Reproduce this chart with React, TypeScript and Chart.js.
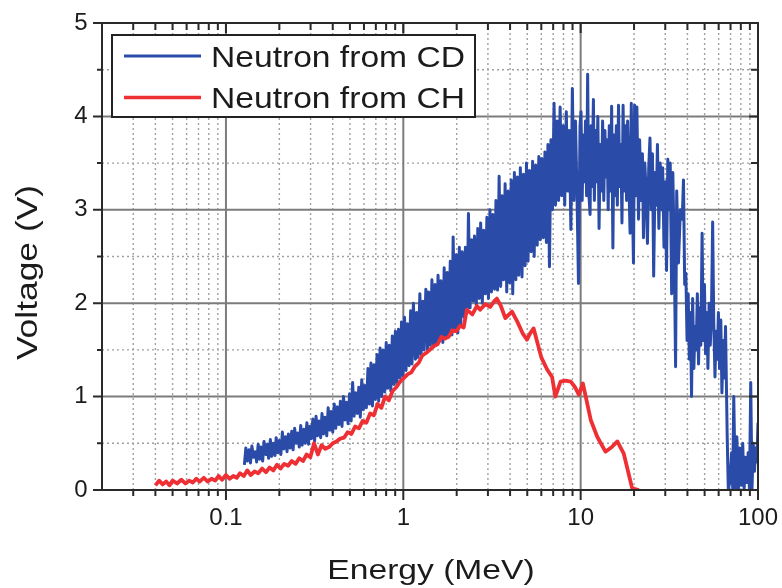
import { useEffect, useRef } from 'react';
import { Chart, registerables } from 'chart.js';

Chart.register(...registerables);

// ---------- data ----------
const seriesNames = ['Neutron from CD', 'Neutron from CH'];
const xTitle = 'Energy (MeV)';
const yTitle = 'Voltage (V)';

const xMin = 0.02;
const xMax = 100;
const yMin = 0;
const yMax = 5;
const xTickValues = [0.1, 1, 10, 100];
const xTickLabels = ['0.1', '1', '10', '100'];
const yTickValues = [0, 1, 2, 3, 4, 5];
const yTickLabels = ['0', '1', '2', '3', '4', '5'];
const yMinorValues = [0.5, 1.5, 2.5, 3.5, 4.5];

// Neutron from CD (blue)
const cdEnergy = [
  0.127, 0.1295, 0.132, 0.135, 0.1375, 0.140, 0.143, 0.146, 0.149, 0.152,
  0.155, 0.158, 0.161, 0.164, 0.168, 0.171, 0.174, 0.178, 0.181, 0.185,
  0.189, 0.192, 0.196, 0.200, 0.204, 0.208, 0.212, 0.217, 0.221, 0.225,
  0.230, 0.235, 0.239, 0.244, 0.249, 0.254, 0.259, 0.264, 0.269, 0.275,
  0.280, 0.286, 0.292, 0.297, 0.303, 0.309, 0.316, 0.322, 0.328, 0.335,
  0.342, 0.348, 0.355, 0.362, 0.370, 0.377, 0.385, 0.392, 0.400, 0.408,
  0.416, 0.425, 0.433, 0.442, 0.451, 0.460, 0.469, 0.478, 0.488, 0.498,
  0.508, 0.518, 0.528, 0.539, 0.550, 0.561, 0.572, 0.583, 0.595, 0.607,
  0.619, 0.632, 0.644, 0.657, 0.670, 0.684, 0.697, 0.711, 0.726, 0.740,
  0.755, 0.770, 0.786, 0.801, 0.817, 0.834, 0.850, 0.867, 0.885, 0.902,
  0.921, 0.939, 0.958, 0.977, 0.996,
  1.016, 1.036, 1.057, 1.078, 1.10, 1.12, 1.14, 1.17, 1.19, 1.21,
  1.24, 1.26, 1.29, 1.31, 1.34, 1.37, 1.39, 1.42, 1.45, 1.48,
  1.51, 1.54, 1.57, 1.60, 1.63, 1.67, 1.70, 1.73, 1.77, 1.80,
  1.84, 1.88, 1.91, 1.95, 1.99, 2.03, 2.07, 2.11, 2.15, 2.20,
  2.24, 2.29, 2.33, 2.38, 2.43, 2.48, 2.52, 2.58, 2.63, 2.68,
  2.73, 2.79, 2.84, 2.90, 2.96, 3.02, 3.08, 3.14, 3.20, 3.27,
  3.33, 3.40, 3.47, 3.54, 3.61, 3.68, 3.75, 3.83, 3.90, 3.98,
  4.06, 4.14, 4.23, 4.31, 4.40, 4.48, 4.57, 4.67, 4.76, 4.86,
  4.95, 5.05, 5.15, 5.26, 5.36, 5.47, 5.58, 5.69, 5.81, 5.92,
  6.04, 6.16, 6.29, 6.41, 6.54, 6.67, 6.80, 6.94, 7.08, 7.22,
  7.37, 7.51, 7.66, 7.82, 7.97, 8.13, 8.30, 8.46, 8.63, 8.81,
  8.98, 9.16, 9.35, 9.53, 9.72, 9.92,
  10.05, 10.2, 10.35, 10.5, 10.65, 10.8, 10.95, 11.1, 11.3, 11.45,
  11.6, 11.8, 11.95, 12.15, 12.3, 12.5, 12.7, 12.9, 13.1, 13.3,
  13.5, 13.7, 13.9, 14.1, 14.3, 14.5, 14.75, 14.95, 15.2, 15.4,
  15.65, 15.9, 16.1, 16.35, 16.6, 16.85, 17.1, 17.35, 17.6, 17.9,
  18.15, 18.4, 18.7, 19.0, 19.3, 19.55, 19.85, 20.15, 20.45, 20.75,
  21.2, 21.5, 21.9, 22.3, 22.6, 23.0, 23.4, 23.8, 24.2, 24.6,
  25.0, 25.4, 25.8, 26.3, 26.7, 27.1, 27.6, 28.1, 28.5, 29.0,
  29.5, 30.0, 30.5, 31.0, 31.5, 32.0, 32.6, 33.1, 33.7, 34.3,
  34.8, 35.6, 36.5, 37.4, 38.0,
  38.6, 39.2, 39.8, 40.4, 41.0, 41.6, 42.2, 42.8, 43.5, 44.1,
  44.8, 45.5, 46.2, 46.9, 47.6, 48.4, 49.1, 49.9, 50.6, 51.4,
  52.2, 53.0, 53.8, 54.6, 55.5, 56.3, 57.2, 58.0, 58.9, 59.8,
  60.7, 61.7, 62.6, 63.6, 64.6, 65.6,
  67.0, 68.0, 69.5, 71.0, 72.0, 73.0, 74.5, 76.0, 77.5, 79.0,
  80.5, 82.0, 83.5, 85.0, 86.5, 88.0, 89.5, 91.0, 92.5, 94.0,
  95.5, 97.0, 98.5, 100,
];
const cdVoltage = [
  0.27, 0.45, 0.31, 0.43, 0.29, 0.47, 0.35, 0.41, 0.30, 0.49,
  0.33, 0.46, 0.31, 0.52, 0.38, 0.49, 0.34, 0.54, 0.36, 0.50,
  0.37, 0.56, 0.40, 0.53, 0.38, 0.62, 0.44, 0.57, 0.41, 0.60,
  0.45, 0.63, 0.43, 0.66, 0.50, 0.61, 0.46, 0.69, 0.48, 0.65,
  0.50, 0.72, 0.49, 0.68, 0.55, 0.76, 0.52, 0.79, 0.58, 0.74,
  0.56, 0.82, 0.60, 0.78, 0.58, 0.88, 0.64, 0.84, 0.62, 0.92,
  0.66, 0.89, 0.70, 0.95, 0.68, 1.00, 0.75, 0.94, 0.71, 1.03,
  0.74, 1.15, 0.79, 1.04, 0.82, 1.10, 0.78, 1.18, 0.86, 1.12,
  0.88, 1.30, 0.92, 1.36, 0.90, 1.34, 0.97, 1.45, 0.95, 1.52,
  1.00, 1.50, 1.05, 1.58, 1.09, 1.55, 1.06, 1.65, 1.13, 1.70,
  1.15, 1.72, 1.20, 1.80, 1.22,
  1.85, 1.28, 1.78, 1.33, 1.92, 1.35, 2.00, 1.40, 1.90, 1.42,
  2.10, 1.45, 2.02, 1.50, 2.15, 1.48, 2.12, 1.55, 2.25, 1.53,
  2.20, 1.57, 2.30, 1.60, 2.24, 1.58, 2.38, 1.63, 2.33, 1.65,
  2.45, 1.66, 2.71, 1.70, 2.52, 1.68, 2.60, 1.78, 2.55, 1.85,
  2.60, 1.92, 2.96, 1.95, 2.68, 2.02, 2.72, 1.98, 2.80, 2.05,
  2.86, 2.00, 2.78, 2.10, 2.92, 2.05, 3.00, 2.12, 2.95, 2.15,
  3.10, 2.14, 3.36, 2.18, 3.15, 2.25, 3.28, 2.12, 3.20, 2.22,
  3.32, 2.10, 3.40, 2.25, 3.35, 2.30, 3.45, 2.28, 3.38, 2.40,
  3.50, 2.45, 3.42, 2.55, 3.52, 2.50, 3.48, 2.62, 3.57, 2.68,
  3.55, 2.70, 3.62, 2.65, 3.70, 2.39, 3.75, 3.00, 4.14, 3.05,
  3.95, 3.10, 4.10, 3.15, 3.90, 3.05, 4.05, 3.20, 3.85, 2.79,
  4.30, 3.10, 3.95, 3.20, 2.21, 3.90,
  4.05, 3.10, 3.80, 3.30, 3.95, 3.15, 4.45, 3.20, 2.95, 3.90,
  3.25, 4.18, 3.10, 3.85, 3.30, 4.00, 2.80, 3.70, 3.20, 3.95,
  3.10, 3.85, 3.35, 3.75, 3.00, 3.90, 3.20, 4.11, 2.59, 3.80,
  3.15, 3.90, 3.05, 4.12, 3.25, 3.70, 2.86, 4.12, 3.20, 3.90,
  3.10, 3.95, 3.30, 2.75, 4.14, 3.20, 2.43, 4.12, 3.15, 4.10,
  2.90, 3.75, 3.10, 3.60, 2.70, 3.50, 3.20, 2.64, 3.45, 3.77,
  3.00, 3.60, 2.29, 3.40, 3.05, 3.70, 2.80, 3.50, 3.00, 3.45,
  2.60, 3.30, 2.35, 3.54, 3.00, 3.50, 2.10, 3.40, 2.55, 1.32,
  3.20, 2.43, 3.00, 2.90, 3.32,
  2.20, 2.32, 1.60, 2.10, 1.40, 1.90, 1.00, 2.05, 1.30, 1.75,
  1.50, 2.10, 1.35, 1.95, 1.55, 2.75, 1.60, 2.20, 1.46, 1.90,
  1.30, 2.00, 1.55, 1.85, 2.87, 1.80, 1.21, 1.70, 1.40, 1.90,
  1.30, 1.82, 1.04, 1.60, 1.20, 1.75,
  0.60, 0.00, 0.10, 0.40, 0.02, 1.00, 0.00, 0.57, 0.00, 0.45,
  0.05, 0.50, 0.00, 0.35, 0.08, 0.40, 0.00, 1.15, 0.00, 0.50,
  0.20, 0.45, 0.30, 0.72,
];

// Neutron from CH (red)
const chEnergy = [
  0.040, 0.042, 0.044, 0.046, 0.048, 0.050, 0.053, 0.056, 0.059, 0.062,
  0.065, 0.068, 0.071, 0.075, 0.079, 0.083, 0.087, 0.091, 0.095, 0.100,
  0.105, 0.110, 0.115, 0.120, 0.126, 0.132, 0.138, 0.145, 0.152, 0.160,
  0.168, 0.176, 0.185, 0.194, 0.203, 0.213, 0.224, 0.235, 0.247, 0.259,
  0.272, 0.285, 0.299, 0.314, 0.330, 0.346, 0.363, 0.381, 0.400, 0.420,
  0.441, 0.463, 0.486, 0.510, 0.535, 0.562, 0.590, 0.619, 0.650, 0.682,
  0.716, 0.752, 0.789, 0.829, 0.870, 0.913, 0.959, 1.01, 1.06, 1.11,
  1.16, 1.22, 1.28, 1.35, 1.41, 1.48, 1.56, 1.64, 1.72, 1.80,
  1.89, 1.99, 2.09, 2.19, 2.28, 2.45, 2.60, 2.71, 2.90, 3.09,
  3.25, 3.37, 3.55, 3.76, 3.95, 4.10, 4.40, 4.70, 4.98, 5.20,
  5.43, 5.70, 6.00, 6.47, 6.90, 7.20, 7.70, 8.20, 8.80, 9.30,
  9.76, 10.3, 11.4, 12.4, 13.8, 15.0, 16.1, 17.5, 18.5, 19.5,
  20.3, 21.3,
];
const chVoltage = [
  0.05, 0.10, 0.06, 0.09, 0.05, 0.10, 0.07, 0.11, 0.07, 0.10,
  0.08, 0.12, 0.09, 0.13, 0.09, 0.12, 0.10, 0.15, 0.11, 0.16,
  0.12, 0.15, 0.13, 0.18, 0.15, 0.21, 0.16, 0.20, 0.18, 0.23,
  0.19, 0.24, 0.21, 0.27, 0.23, 0.28, 0.26, 0.31, 0.28, 0.34,
  0.31, 0.38, 0.35, 0.50, 0.38, 0.48, 0.44, 0.46, 0.50, 0.52,
  0.55, 0.56, 0.62, 0.60, 0.68, 0.66, 0.74, 0.72, 0.82, 0.80,
  0.92, 0.88, 1.00, 0.96, 1.06, 1.10, 1.16, 1.20, 1.24, 1.26,
  1.32, 1.36, 1.44, 1.47, 1.50, 1.54, 1.56, 1.64, 1.62, 1.64,
  1.71, 1.70, 1.76, 1.74, 1.93, 1.88, 1.97, 1.93, 1.99, 1.96,
  2.02, 2.05, 1.97, 1.84, 1.88, 1.91, 1.80, 1.68, 1.61, 1.68,
  1.73, 1.58, 1.42, 1.29, 1.21, 1.00, 1.16, 1.17, 1.16, 1.10,
  1.02, 1.14, 0.75, 0.57, 0.41, 0.46, 0.52, 0.39, 0.20, 0.02,
  0.01, 0.00,
];

// ---------- styling ----------
const FONT = '"Liberation Sans", Arial, Helvetica, sans-serif';
const BLUE = '#2b4ba8';
const RED = '#ee2f33';
const TEXT = '#1b1b1b';

const xMinorValues: number[] = [];
for (const d of [0.01, 0.1, 1, 10]) {
  for (let m = 2; m <= 9; m++) {
    const v = +(m * d).toPrecision(3);
    if (v > xMin && v < xMax) xMinorValues.push(v);
  }
}

const framePlugin = {
  id: 'originFrame',
  beforeDatasetsDraw(chart: any) {
    const { ctx, chartArea: a, scales } = chart;
    const x = scales.x;
    const y = scales.y;
    ctx.save();
    ctx.lineWidth = 1.4;
    ctx.strokeStyle = '#a0a0a0';
    ctx.setLineDash([2, 3]);
    ctx.beginPath();
    for (const v of xMinorValues) {
      const p = x.getPixelForValue(v);
      ctx.moveTo(p, a.top);
      ctx.lineTo(p, a.bottom);
    }
    for (const v of yMinorValues) {
      const p = y.getPixelForValue(v);
      ctx.moveTo(a.left, p);
      ctx.lineTo(a.right, p);
    }
    ctx.stroke();
    ctx.setLineDash([]);
    ctx.lineWidth = 2;
    ctx.strokeStyle = '#7c7c7c';
    ctx.beginPath();
    for (const v of xTickValues) {
      if (v <= xMin || v >= xMax) continue;
      const p = x.getPixelForValue(v);
      ctx.moveTo(p, a.top);
      ctx.lineTo(p, a.bottom);
    }
    for (const v of yTickValues) {
      if (v <= yMin || v >= yMax) continue;
      const p = y.getPixelForValue(v);
      ctx.moveTo(a.left, p);
      ctx.lineTo(a.right, p);
    }
    ctx.stroke();
    ctx.restore();
  },
  afterDatasetsDraw(chart: any) {
    const { ctx, chartArea: a, scales } = chart;
    const x = scales.x;
    const y = scales.y;
    ctx.save();
    ctx.strokeStyle = '#2a2a2a';
    ctx.lineWidth = 2;
    ctx.strokeRect(a.left, a.top, a.right - a.left, a.bottom - a.top);
    ctx.beginPath();
    for (const v of xTickValues) {
      const p = x.getPixelForValue(v);
      ctx.moveTo(p, a.bottom);
      ctx.lineTo(p, a.bottom + 10);
      ctx.moveTo(p, a.top);
      ctx.lineTo(p, a.top + 10);
    }
    for (const v of xMinorValues) {
      const p = x.getPixelForValue(v);
      ctx.moveTo(p, a.bottom);
      ctx.lineTo(p, a.bottom + 6);
      ctx.moveTo(p, a.top);
      ctx.lineTo(p, a.top + 7);
    }
    for (const v of yTickValues) {
      const p = y.getPixelForValue(v);
      ctx.moveTo(a.left - 9, p);
      ctx.lineTo(a.left, p);
      ctx.moveTo(a.right, p);
      ctx.lineTo(a.right - 9, p);
    }
    for (const v of yMinorValues) {
      const p = y.getPixelForValue(v);
      ctx.moveTo(a.left - 5, p);
      ctx.lineTo(a.left, p);
      ctx.moveTo(a.right, p);
      ctx.lineTo(a.right - 7, p);
    }
    ctx.stroke();
    ctx.restore();
  },
  afterDraw(chart: any) {
    const { ctx, chartArea: a } = chart;
    ctx.save();
    ctx.fillStyle = TEXT;
    ctx.textBaseline = 'alphabetic';
    ctx.textAlign = 'center';
    ctx.font = `28px ${FONT}`;
    ctx.save();
    ctx.translate((a.left + a.right) / 2 + 1, 578.5);
    ctx.scale(1.2, 1);
    ctx.fillText(xTitle, 0, 0);
    ctx.restore();
    ctx.font = `30px ${FONT}`;
    ctx.save();
    ctx.translate(37, 272.5);
    ctx.rotate(-Math.PI / 2);
    ctx.scale(1.18, 1);
    ctx.fillText(yTitle, 0, 0);
    ctx.restore();

    const lx = a.left + 10;
    const ly = a.top + 12;
    const lw = 363;
    const lh = 82;
    ctx.fillStyle = '#ffffff';
    ctx.fillRect(lx, ly, lw, lh);
    ctx.strokeStyle = '#222222';
    ctx.lineWidth = 2;
    ctx.strokeRect(lx, ly, lw, lh);
    const colors = [BLUE, RED];
    const rowsLine = [21, 62.5];
    const rowsText = [32, 73];
    ctx.textAlign = 'left';
    ctx.font = `30px ${FONT}`;
    for (let i = 0; i < seriesNames.length; i++) {
      ctx.strokeStyle = colors[i];
      ctx.lineWidth = i === 0 ? 3 : 3.5;
      ctx.beginPath();
      ctx.moveTo(lx + 12, ly + rowsLine[i]);
      ctx.lineTo(lx + 89, ly + rowsLine[i]);
      ctx.stroke();
      ctx.fillStyle = TEXT;
      ctx.save();
      ctx.translate(lx + 99, ly + rowsText[i]);
      ctx.scale(1.12, 1);
      ctx.fillText(seriesNames[i], 0, 0);
      ctx.restore();
    }
    ctx.restore();
  },
};

export default function App() {
  const ref = useRef<HTMLCanvasElement | null>(null);

  useEffect(() => {
    if (!ref.current) return;
    const cdPoints = cdEnergy.map((e, i) => ({ x: e, y: cdVoltage[i] }));
    const chPoints = chEnergy.map((e, i) => ({ x: e, y: chVoltage[i] }));
    const chart = new Chart(ref.current, {
      type: 'line',
      data: {
        datasets: [
          {
            label: seriesNames[1],
            data: chPoints,
            borderColor: RED,
            backgroundColor: RED,
            borderWidth: 3.8,
            pointRadius: 0,
            tension: 0,
            borderJoinStyle: 'round',
            fill: false,
          },
          {
            label: seriesNames[0],
            data: cdPoints,
            borderColor: BLUE,
            backgroundColor: BLUE,
            borderWidth: 3,
            pointRadius: 0,
            tension: 0,
            borderJoinStyle: 'round',
            fill: false,
          },
        ],
      },
      options: {
        animation: false,
        responsive: true,
        maintainAspectRatio: false,
        events: [],
        layout: { padding: { top: 23, right: 24, left: 0, bottom: 0 } },
        plugins: {
          legend: { display: false },
          tooltip: { enabled: false },
          title: { display: false },
        },
        scales: {
          x: {
            type: 'logarithmic',
            min: xMin,
            max: xMax,
            grid: { display: false, drawTicks: false },
            border: { display: false },
            ticks: {
              autoSkip: false,
              maxRotation: 0,
              padding: 14,
              color: TEXT,
              font: { size: 24, family: FONT },
              callback: (_v: any, i: number) => xTickLabels[i],
            },
            afterBuildTicks: (s: any) => {
              s.ticks = xTickValues.map((v) => ({ value: v }));
            },
            afterFit: (s: any) => {
              s.height = 98;
              s.paddingLeft = 0;
              s.paddingRight = 0;
            },
          },
          y: {
            type: 'linear',
            min: yMin,
            max: yMax,
            grid: { display: false, drawTicks: false },
            border: { display: false },
            ticks: {
              stepSize: 1,
              padding: 14.5,
              color: TEXT,
              font: { size: 24, family: FONT },
              callback: (v: any) => {
                const k = yTickValues.indexOf(Number(v));
                return k >= 0 ? yTickLabels[k] : '';
              },
            },
            afterFit: (s: any) => {
              s.width = 102;
              s.paddingTop = 0;
              s.paddingBottom = 0;
            },
          },
        },
      } as any,
      plugins: [framePlugin],
    });
    return () => chart.destroy();
  }, []);

  return (
    <div style={{ position: 'absolute', left: 0, top: 0, width: 782, height: 588, background: '#fff' }}>
      <canvas ref={ref} />
    </div>
  );
}
